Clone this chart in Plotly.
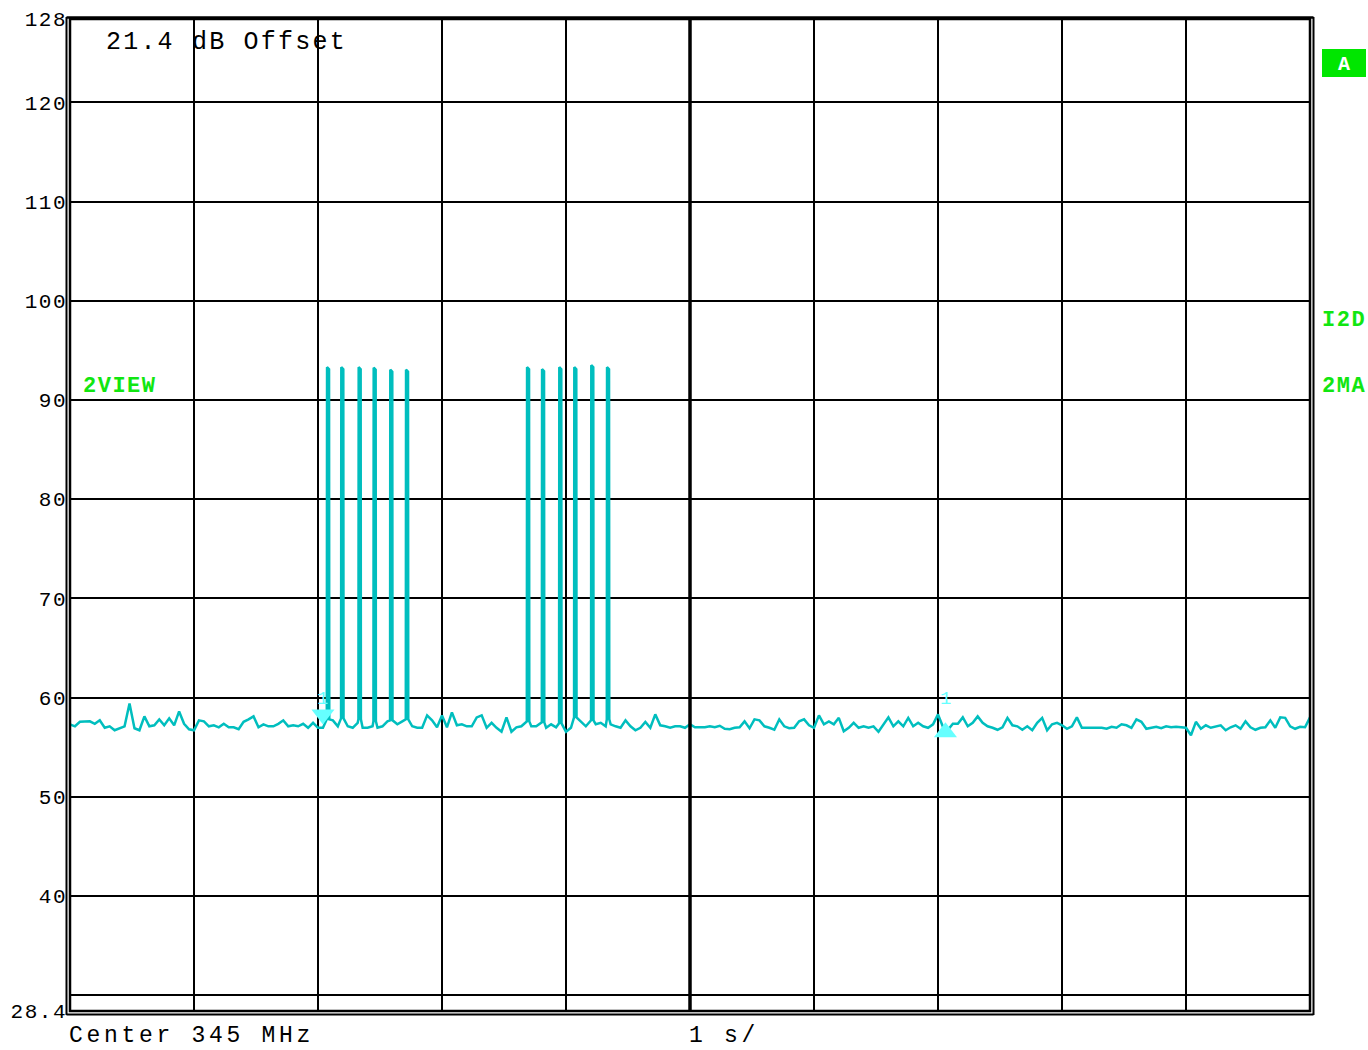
import plotly.graph_objects as go

# Zero-span sweep: 10 s across the screen, level in dB (21.4 dB offset applied)
SWEEP_STEP_S = 0.04

noise_db = [
    57.3, 57.1, 57.55, 57.6, 57.6, 57.35, 57.7, 56.95, 57.1, 56.7,
    56.9, 57.1, 59.4, 56.9, 56.7, 58.1, 57.1, 57.2, 57.8, 57.2,
    57.9, 57.2, 58.6, 57.35, 56.8, 56.7, 57.7, 57.6, 57.1, 57.2,
    57.0, 57.35, 57.0, 57.0, 56.8, 57.55, 57.8, 58.1, 57.0, 57.3,
    57.1, 57.1, 57.35, 57.7, 57.1, 57.2, 57.1, 57.35, 56.95, 57.45,
    56.95, 56.95, 57.45, 57.7, 57.1, 57.6, 57.1, 56.95, 57.45, 56.95,
    56.95, 57.1, 56.95, 57.1, 57.6, 57.1, 57.3, 57.6, 57.3, 57.1,
    56.95, 56.95, 58.2, 57.7, 57.0, 58.2, 57.0, 58.5, 57.2, 57.3,
    57.1, 57.1, 58.0, 58.2, 56.95, 57.45, 56.95, 56.55, 58.0, 56.55,
    57.0, 57.1, 56.95, 57.1, 57.1, 57.0, 56.95, 57.3, 57.0, 56.8,
    56.55, 56.95, 57.3, 57.6, 57.1, 56.95, 57.3, 57.45, 57.1, 57.3,
    57.1, 56.95, 57.7, 57.1, 56.7, 56.95, 57.55, 56.95, 58.3, 57.2,
    57.1, 56.95, 57.1, 57.1, 56.95, 57.3,
    57.0, 57.0, 57.0, 57.1, 57.0, 57.15, 56.85, 56.8, 56.95, 57.0,
    57.6, 56.9, 57.8, 57.7, 57.1, 56.95, 56.75, 57.8, 57.1, 56.9,
    56.95, 57.6, 57.8, 57.2, 56.95, 58.2, 57.3, 57.6, 57.3, 57.95,
    56.6, 56.95, 57.45, 56.95, 57.1, 56.95, 57.1, 56.55, 57.3, 58.0,
    57.1, 57.6, 57.1, 57.95, 57.1, 57.45, 57.1, 56.95, 57.3, 58.3,
    57.05, 56.75, 57.35, 57.35, 58.0, 57.1, 57.45, 58.1, 57.45, 57.1,
    56.95, 56.75, 57.0, 57.95, 57.2,
    57.1, 56.75, 57.1, 56.7, 57.45, 57.95, 56.7, 57.3, 57.45, 57.2,
    56.85, 57.1, 58.0, 56.95, 56.95, 57.0, 56.95, 56.95, 56.85, 57.05,
    56.95, 57.3, 57.2, 56.95, 57.8, 57.55, 56.85, 56.95, 57.05, 56.9,
    57.1, 57.0, 57.05, 57.0, 56.95, 56.2, 57.55, 56.85, 57.2, 56.95,
    57.1, 57.2, 56.7, 57.0, 57.2, 56.85, 57.6, 57.0, 56.75, 56.95,
    57.0, 57.7, 56.95, 58.0, 57.95, 57.1, 56.85, 57.05, 57.0, 58.0,
]

# Two bursts of six pulses each
spike_t = [2.081, 2.196, 2.336, 2.457, 2.591, 2.718,
           3.694, 3.815, 3.954, 4.075, 4.212, 4.339]
spike_peak = [93.3, 93.3, 93.3, 93.25, 93.05, 93.05,
              93.3, 93.1, 93.3, 93.3, 93.5, 93.3]
spike_foot = [57.8, 57.9, 57.8, 57.6, 57.7, 57.8,
              57.6, 57.5, 57.4, 58.0, 57.7, 57.8]

marker_t = [2.04, 7.06]
marker_level = [58.3, 56.5]
marker_symbol = ["triangle-down", "triangle-up"]
marker_label = ["1", "1"]
marker_label_level = [59.9, 59.9]

y_tick_vals = [28.4, 30, 40, 50, 60, 70, 80, 90, 100, 110, 120, 128.4]
y_tick_text = ["28.4", "", "40", "50", "60", "70", "80", "90", "100", "110", "120", "128"]

TRACE = "#00BEBE"
MARK = "#66FFFF"
GREEN = "#11E611"
MONO = "Liberation Mono, Courier New, monospace"


def spaced(text, px_gap):
    return f'<span style="letter-spacing:{px_gap}px">{text}</span>'


# Merge the sampled noise floor with the pulse edges
pts = []
for i, v in enumerate(noise_db):
    t = round(i * SWEEP_STEP_S, 4)
    if all(abs(t - s) > 0.016 for s in spike_t):
        pts.append((t, v))
for s, pk, ft in zip(spike_t, spike_peak, spike_foot):
    pts += [(s - 0.010, ft), (s - 0.008, pk), (s + 0.008, pk - 0.2), (s + 0.010, ft)]
pts.sort()
xs = [p[0] for p in pts]
ys = [p[1] for p in pts]

fig = go.Figure()
fig.add_trace(go.Scatter(x=xs, y=ys, mode="lines",
                         line=dict(color=TRACE, width=2.5), hoverinfo="skip"))
fig.add_trace(go.Scatter(x=marker_t, y=marker_level, mode="markers",
                         marker=dict(symbol=marker_symbol, size=20, color=MARK,
                                     line=dict(width=0)),
                         hoverinfo="skip"))
for t, lv, lab in zip(marker_t, marker_label_level, marker_label):
    fig.add_annotation(x=t, y=lv, text=lab, showarrow=False, xref="x", yref="y",
                       font=dict(family=MONO, size=19, color=MARK))

# Plot area spans x 70..1310 px, y 19..1011 px
W, H = 1368, 1050
L, R, T, B = 70, 58, 19, 39
pw, ph = W - L - R, H - T - B


def px(x):
    return (x - L) / pw


def py(y):
    return (H - B - y) / ph


shapes = [
    # thick centre division
    dict(type="line", xref="x", yref="paper", x0=5, x1=5, y0=0, y1=1,
         line=dict(color="black", width=3.5)),
    # inner frame
    dict(type="rect", xref="paper", yref="paper", x0=0, x1=1, y0=0, y1=1,
         line=dict(color="black", width=2.5)),
    # outer frame lines
    dict(type="line", xref="paper", yref="paper", x0=px(66.5), x1=px(66.5),
         y0=py(1015), y1=py(17), line=dict(color="black", width=2)),
    dict(type="line", xref="paper", yref="paper", x0=px(1313.5), x1=px(1313.5),
         y0=py(1015), y1=py(17), line=dict(color="black", width=2)),
    dict(type="line", xref="paper", yref="paper", x0=px(66.5), x1=px(1313.5),
         y0=py(1014.5), y1=py(1014.5), line=dict(color="black", width=2)),
    dict(type="line", xref="paper", yref="paper", x0=px(66.5), x1=px(1313.5),
         y0=py(17.5), y1=py(17.5), line=dict(color="black", width=2.5)),
    # status box
    dict(type="rect", xref="paper", yref="paper", x0=px(1322), x1=px(1366),
         y0=py(77), y1=py(49), fillcolor="#00E600", line=dict(width=0)),
]

annotations = [
    dict(x=px(106), y=py(42), text=spaced("21.4 dB Offset", 2.2), xanchor="left",
         yanchor="middle", font=dict(family=MONO, size=25, color="black")),
    dict(x=px(83), y=py(386), text=spaced("<b>2VIEW</b>", 1.5), xanchor="left",
         yanchor="middle", font=dict(family=MONO, size=22, color=GREEN)),
    dict(x=px(1322), y=py(320), text=spaced("<b>I2D</b>", 1.5), xanchor="left",
         yanchor="middle", font=dict(family=MONO, size=22, color=GREEN)),
    dict(x=px(1322), y=py(386), text=spaced("<b>2MA</b>", 1.5), xanchor="left",
         yanchor="middle", font=dict(family=MONO, size=22, color=GREEN)),
    dict(x=px(1344), y=py(64), text="<b>A</b>", xanchor="center",
         yanchor="middle", font=dict(family=MONO, size=20, color="white")),
    dict(x=px(69), y=py(1049), text=spaced("Center 345 MHz", 3.7), xanchor="left",
         yanchor="bottom", font=dict(family=MONO, size=23, color="black")),
    dict(x=px(689), y=py(1049), text=spaced("1 s/", 3.7), xanchor="left",
         yanchor="bottom", font=dict(family=MONO, size=23, color="black")),
]
for a in annotations:
    a.update(xref="paper", yref="paper", showarrow=False, borderpad=0, borderwidth=0)
    fig.add_annotation(**a)

fig.update_layout(
    width=W, height=H,
    margin=dict(l=L, r=R, t=T, b=B, autoexpand=False),
    paper_bgcolor="white", plot_bgcolor="white",
    showlegend=False,
    shapes=shapes,
    xaxis=dict(range=[0, 10], dtick=1, tick0=0, showticklabels=False,
               showgrid=True, gridcolor="black", gridwidth=2, automargin=False,
               zeroline=False, showline=False, ticks=""),
    yaxis=dict(range=[28.4, 128.4], tickmode="array", tickvals=y_tick_vals,
               ticktext=[spaced(s, 1.5) if s else s for s in y_tick_text],
               showgrid=True, gridcolor="black", gridwidth=2, automargin=False,
               zeroline=False, showline=False, ticks="", ticklabelstandoff=2,
               tickfont=dict(family=MONO, size=21, color="black")),
)

fig.write_html("out.html")
